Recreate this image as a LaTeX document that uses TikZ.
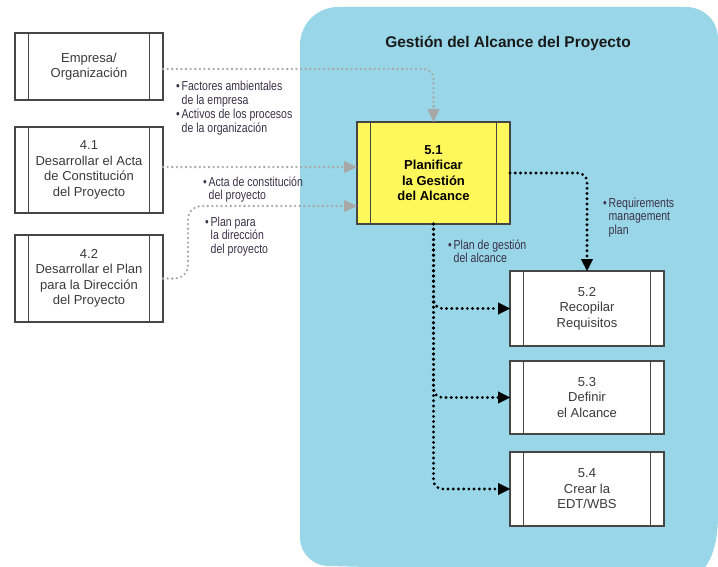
\documentclass[tikz,border=0pt]{standalone}
\usepackage{fontspec}
\setmainfont{Liberation Sans}
\newfontfamily\narrowsans[FakeStretch=0.81]{Liberation Sans}
\usetikzlibrary{arrows.meta}

\definecolor{scopeblue}{RGB}{152,214,232}
\definecolor{planyellow}{RGB}{255,248,92}
\definecolor{boxedge}{RGB}{70,70,70}
\definecolor{flowgray}{RGB}{168,168,168}
\definecolor{boxtext}{RGB}{58,58,58}
\definecolor{notetext}{RGB}{58,50,72}

% bullet and hanging indent for the flow annotations
\newcommand\nb{\makebox[5.5pt][l]{•}}
\newcommand\nbi{\hspace*{5.5pt}}

\tikzset{
  sidebar/.style={boxedge, line width=1.1pt},
  process/.style={draw=boxedge, line width=1.1pt, fill=white, rectangle,
    inner sep=0pt, outer sep=0pt, align=center, text=boxtext,
    font=\fontsize{13}{15.5}\selectfont,
    path picture={
      \draw[sidebar]
        ([xshift=13.5pt]path picture bounding box.north west) --
        ([xshift=13.5pt]path picture bounding box.south west)
        ([xshift=-13.5pt]path picture bounding box.north east) --
        ([xshift=-13.5pt]path picture bounding box.south east);}},
  leftbox/.style={process, minimum width=148pt},
  rightbox/.style={process, minimum width=154pt},
  planbox/.style={process, fill=planyellow, text=black,
    font=\bfseries\fontsize{13}{15.5}\selectfont,
    minimum width=153pt, minimum height=102pt},
  % placed at the baseline of the last line
  note/.style={anchor=base west, inner sep=0pt, align=left, text=notetext,
    font=\narrowsans\fontsize{13}{13.8}\selectfont},
  grayflow/.style={draw=flowgray, line width=2.6pt, dash pattern=on 0pt off 4.6pt,
    line cap=round, rounded corners=10pt,
    -{Triangle[length=13pt,width=12pt,line width=0.1pt]}},
  blackflow/.style={draw=black, line width=3.2pt, dash pattern=on 0pt off 5.2pt,
    line cap=round, rounded corners=9pt,
    -{Triangle[length=12pt,width=12pt,line width=0.1pt]}},
}

\begin{document}
\begin{tikzpicture}[x=1pt, y=-1pt]
  \useasboundingbox (0,0) rectangle (718,567);

  % knowledge-area panel
  \fill[scopeblue] (300,45) .. controls (300,24) and (317,7) .. (338,7)
    -- (686,7) .. controls (704,7) and (718,21) .. (718,39)
    -- (718,515) .. controls (718,548) and (709,567) .. (697,575)
    -- (328,566) .. controls (313,566) and (300,553) .. (300,538) -- cycle;

  \node[font=\bfseries\fontsize{15.5}{18}\selectfont, text=black!90] (title)
    at (508,43) {Gestión del Alcance del Proyecto};

  % inputs
  \node[leftbox, minimum height=67pt] (emp) at (89,66.5) {Empresa/\\Organización};
  \node[leftbox, minimum height=86pt] (a41) at (89,170)
    {4.1\\Desarrollar el Acta\\de Constitución\\del Proyecto};
  \node[leftbox, minimum height=87pt] (a42) at (89,278.5)
    {4.2\\Desarrollar el Plan\\para la Dirección\\del Proyecto};

  % processes
  \node[planbox] (p51) at (433.5,173) {5.1\\Planificar\\la Gestión\\del Alcance};
  \node[rightbox, minimum height=75pt] (p52) at (587,308.5) {5.2\\Recopilar\\Requisitos};
  \node[rightbox, minimum height=73pt] (p53) at (587,397.5) {5.3\\Definir\\el Alcance};
  \node[rightbox, minimum height=74pt] (p54) at (587,489) {5.4\\Crear la\\EDT/WBS};

  % input flows
  \draw[grayflow] ([yshift=-2.5pt]emp.east) -| (p51.north);
  \draw[grayflow] ([yshift=3pt]a41.east) -- ([yshift=3pt]a41.east -| p51.west);
  \draw[grayflow, rounded corners=13pt] (a42.east) -- ++(25,0)
    |- ([yshift=-33pt]p51.west);

  % output flows
  \draw[blackflow] (p51.east) -| (p52.north);
  \draw[blackflow] (p51.south) |- (p52.west);
  \draw[blackflow] (p51.south) |- (p53.west);
  \draw[blackflow] (p51.south) |- (p54.west);

  % annotations
  \node[note] (n1) at (176,132.4)
    {\nb Factores ambientales\\\nbi de la empresa\\\nb Activos de los procesos\\\nbi de la organización};
  \node[note] (n2) at (203,199.8) {\nb Acta de constitución\\\nbi del proyecto};
  \node[note] (n3) at (205,253.6) {\nb Plan para\\\nbi la dirección\\\nbi del proyecto};
  \node[note] (n4) at (603,234.6) {\nb Requirements\\\nbi management\\\nbi plan};
  \node[note] (n5) at (448,262.8) {\nb Plan de gestión\\\nbi del alcance};
\end{tikzpicture}
\end{document}
